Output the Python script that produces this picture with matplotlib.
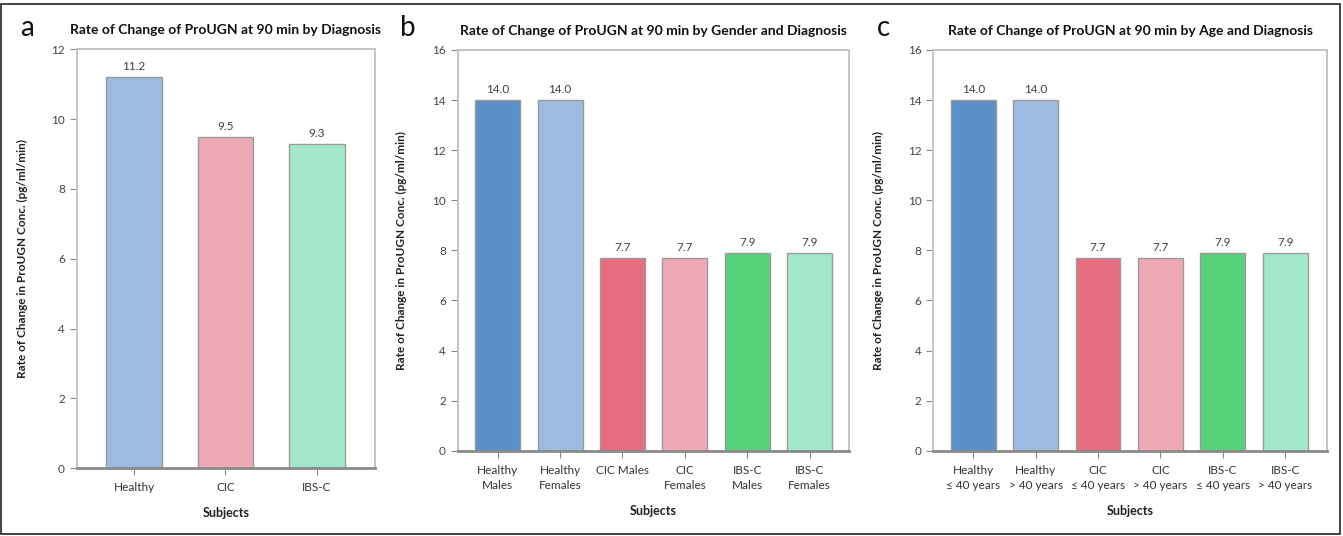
import matplotlib.pyplot as plt
from matplotlib.patches import Rectangle

plt.rcParams['font.family'] = ['Lato', 'DejaVu Sans']

# panel a
diag_labels = ["Healthy", "CIC", "IBS-C"]
diag_values = [11.2, 9.5, 9.3]

# panel b
gender_labels = ["Healthy\nMales", "Healthy\nFemales", "CIC Males", "CIC\nFemales", "IBS-C\nMales", "IBS-C\nFemales"]
gender_values = [14.0, 14.0, 7.7, 7.7, 7.9, 7.9]

# panel c
age_labels = ["Healthy\n\u2264 40 years", "Healthy\n> 40 years", "CIC\n\u2264 40 years", "CIC\n> 40 years",
              "IBS-C\n\u2264 40 years", "IBS-C\n> 40 years"]
age_values = [14.0, 14.0, 7.7, 7.7, 7.9, 7.9]

light = ["#9dbbe0", "#eeaab4", "#a4e8cb"]
six = ["#5b8fca", "#9dbbe0", "#e66d80", "#eeaab4", "#56d37a", "#a4e8cb"]

W, H = 1343, 536
fig = plt.figure(figsize=(W / 100, H / 100), dpi=100)
fig.patches.append(Rectangle((1 / W, 2 / H), 1339 / W, 530 / H, transform=fig.transFigure,
                             fill=False, edgecolor="#222222", linewidth=1.2))


def px_axes(x0, x1, ytop, ybot):
    return fig.add_axes([x0 / W, 1 - ybot / H, (x1 - x0) / W, (ybot - ytop) / H])


def draw(ax, labels, values, colors, width, xlim, ymax, title, letter, letter_x, ylabel_x):
    x = list(range(len(values)))
    ax.bar(x, values, width=width, color=colors, edgecolor="#9a9a9a", linewidth=1.0, zorder=2)
    for xi, v in zip(x, values):
        ax.text(xi, v + ymax * 0.012, f"{v:.1f}", ha="center", va="bottom", fontsize=8.5, color="#404040")
    ax.set_xlim(*xlim)
    ax.set_ylim(0, ymax)
    ax.set_yticks(range(0, ymax + 1, 2))
    ax.set_xticks(x)
    ax.set_xticklabels(labels, fontsize=8.5, color="#333333", linespacing=1.45)
    ax.tick_params(axis="y", labelsize=8.5, labelcolor="#444444", color="#888888", length=5, width=0.8)
    ax.tick_params(axis="x", color="#888888", length=5, width=0.8, pad=5)
    for s in ["top", "right", "left"]:
        ax.spines[s].set_color("#c4c4c4")
        ax.spines[s].set_linewidth(1.4)
    ax.spines["bottom"].set_color("#8a8a8a")
    ax.spines["bottom"].set_linewidth(2.0)
    ax.set_xlabel("Subjects", fontsize=9, fontweight="bold", color="#222222", labelpad=10)
    ax.set_title(title, fontsize=10, fontweight="bold", color="#111111", pad=11)
    ax.set_ylabel("Rate of Change in ProUGN Conc. (pg/ml/min)", fontsize=8.5, fontweight="bold", color="#222222")
    ax.yaxis.set_label_coords((ylabel_x - ax.get_position().x0 * W) / (ax.get_position().width * W), 0.5)
    fig.text(letter_x / W, 1 - 28 / H, letter, fontsize=20, fontweight="normal", color="#111111",
             ha="center", va="center")


ax_a = px_axes(76.7, 375, 49.3, 468.3)
draw(ax_a, diag_labels, diag_values, light, 0.61, (-0.626, 2.634), 12,
     "Rate of Change of ProUGN at 90 min by Diagnosis", "a", 27, 28)

ax_b = px_axes(457.7, 849, 50, 450.7)
draw(ax_b, gender_labels, gender_values, six, 0.72, (-0.64, 5.63), 16,
     "Rate of Change of ProUGN at 90 min by Gender and Diagnosis", "b", 408, 407)

ax_c = px_axes(933.3, 1327, 50, 450.7)
draw(ax_c, age_labels, age_values, six, 0.72, (-0.64, 5.67), 16,
     "Rate of Change of ProUGN at 90 min by Age and Diagnosis", "c", 883, 884)

fig.savefig("out.png", dpi=100, facecolor="white")
